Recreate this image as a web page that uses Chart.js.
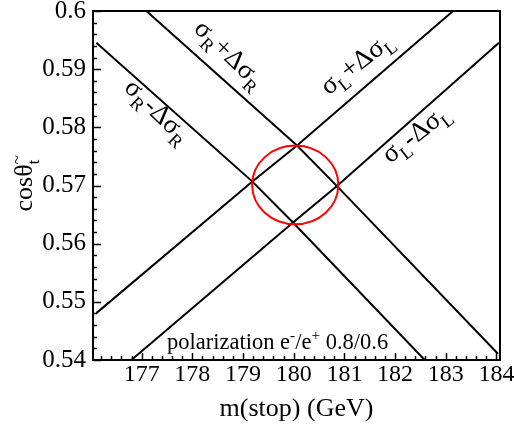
<!DOCTYPE html>
<html>
<head>
<meta charset="utf-8">
<script src="https://cdn.jsdelivr.net/npm/chart.js@4.4.0/dist/chart.umd.min.js"></script>
<style>
html, body { margin: 0; padding: 0; background: #fff; }
#wrap { width: 514px; height: 429px; }
</style>
</head>
<body>
<div id="wrap"><canvas id="chart" width="514" height="429"></canvas></div>
<script>
// ===========================
// Data
// ===========================

const rMinusX = [176.106, 179.185, 179.986, 182.585];
const rMinusY = [0.59455, 0.57067, 0.56363, 0.54];

const rPlusX = [177.093, 180.065, 180.854, 184.03];
const rPlusY = [0.6, 0.57686, 0.5699, 0.54107];

const lPlusX = [176.106, 179.185, 180.065, 183.144];
const lPlusY = [0.54806, 0.57067, 0.57686, 0.6];

const lMinusX = [176.797, 179.986, 180.854, 184.05];
const lMinusY = [0.54, 0.56363, 0.5699, 0.59455];

// fitted point and its 1-sigma contour (half widths)
const fitCenter = [180.03, 0.5701];
const fitHalfWidth = [0.85, 0.00676];

const xTickLabels = [177, 178, 179, 180, 181, 182, 183, 184];
const yTickLabels = [0.54, 0.55, 0.56, 0.57, 0.58, 0.59, 0.6];

const X_MIN = 176.04, X_MAX = 184.07;
const Y_MIN = 0.54, Y_MAX = 0.6;

const SERIF = '"Liberation Serif", "DejaVu Serif", serif';

function toPoints(xs, ys) {
    return xs.map((v, i) => ({ x: v, y: ys[i] }));
}

function lineSet(xs, ys) {
    return {
        data: toPoints(xs, ys),
        showLine: true,
        borderColor: '#000',
        borderWidth: 2,
        pointRadius: 0,
        tension: 0,
        fill: false
    };
}

// minor ticks: 5 per labelled step
function minorTicks(labels, step, lo, hi) {
    const out = [];
    const first = labels[0] - step;
    for (let i = 0; i <= (labels.length + 1) * 5; i++) {
        const v = Math.round((first + i * step / 5) * 1e6) / 1e6;
        if (v >= lo - 1e-9 && v <= hi + 1e-9) out.push({ value: v });
    }
    return out;
}

function isMajor(v, labels) {
    return labels.some(l => Math.abs(l - v) < 1e-7);
}

// ===========================
// Rich text helper (subscripts / superscripts)
// ===========================

function richWidth(ctx, parts, size) {
    let w = 0;
    parts.forEach(p => {
        ctx.font = `${p.sub || p.sup ? size * 0.68 : size}px ${SERIF}`;
        if (!p.noAdvance) w += ctx.measureText(p.t).width;
    });
    return w;
}

function drawRich(ctx, parts, size, x, y, angle, align) {
    ctx.save();
    ctx.translate(x, y);
    ctx.rotate(angle * Math.PI / 180);
    const total = richWidth(ctx, parts, size);
    let cx = align === 'left' ? 0 : -total / 2;
    ctx.textBaseline = 'alphabetic';
    ctx.textAlign = 'left';
    ctx.fillStyle = '#000';
    parts.forEach(p => {
        const s = p.sub || p.sup ? size * 0.68 : size;
        ctx.font = `${s}px ${SERIF}`;
        let dy = 0;
        if (p.sub) dy = size * 0.25;
        if (p.sup) dy = -size * 0.38;
        ctx.fillText(p.t, cx, dy);
        if (!p.noAdvance) cx += ctx.measureText(p.t).width;
    });
    ctx.restore();
}

const sig = (a, op, b) => [
    { t: 'σ' }, { t: a, sub: true }, { t: op }, { t: 'Δσ' }, { t: b, sub: true }
];

// label anchors in data units, angle in degrees
const curveLabels = [
    { parts: sig('R', '+', 'R'), x: 178.62, y: 0.5916, angle: 44 },
    { parts: sig('R', '-', 'R'), x: 177.197, y: 0.5818, angle: 44 },
    { parts: sig('L', '+', 'L'), x: 181.34, y: 0.5899, angle: -38 },
    { parts: sig('L', '-', 'L'), x: 182.506, y: 0.5778, angle: -38 }
];

// ===========================
// Overlay plugin: contour, frame, inward ticks, texts
// ===========================

const overlay = {
    id: 'overlay',
    afterDatasetsDraw(chart) {
        const { ctx, chartArea: a } = chart;
        const xs = chart.scales.x, ys = chart.scales.y;

        // red contour
        ctx.save();
        ctx.beginPath();
        ctx.rect(a.left, a.top, a.right - a.left, a.bottom - a.top);
        ctx.clip();
        const cx = xs.getPixelForValue(fitCenter[0]);
        const cy = ys.getPixelForValue(fitCenter[1]);
        const rx = Math.abs(xs.getPixelForValue(fitCenter[0] + fitHalfWidth[0]) - cx);
        const ry = Math.abs(ys.getPixelForValue(fitCenter[1] + fitHalfWidth[1]) - cy);
        ctx.beginPath();
        ctx.ellipse(cx, cy, rx, ry, 0, 0, Math.PI * 2);
        ctx.strokeStyle = '#ff0000';
        ctx.lineWidth = 2;
        ctx.stroke();
        ctx.restore();

        // frame
        ctx.save();
        ctx.strokeStyle = '#000';
        ctx.lineWidth = 2;
        ctx.strokeRect(a.left, a.top, a.right - a.left, a.bottom - a.top);

        // ticks pointing into the frame
        ctx.lineWidth = 1.5;
        ctx.beginPath();
        xs.ticks.forEach(t => {
            const px = Math.round(xs.getPixelForValue(t.value)) + 0.5;
            const len = isMajor(t.value, xTickLabels) ? 7 : 4;
            ctx.moveTo(px, a.bottom);
            ctx.lineTo(px, a.bottom - len);
        });
        ys.ticks.forEach(t => {
            const py = Math.round(ys.getPixelForValue(t.value)) + 0.5;
            const len = isMajor(t.value, yTickLabels) ? 8 : 4;
            ctx.moveTo(a.left, py);
            ctx.lineTo(a.left + len, py);
        });
        ctx.stroke();
        ctx.restore();

        // curve labels
        curveLabels.forEach(l => {
            drawRich(ctx, l.parts, 27, xs.getPixelForValue(l.x), ys.getPixelForValue(l.y), l.angle, 'center');
        });

        // polarization note
        drawRich(ctx, [
            { t: 'polarization e' }, { t: '-', sup: true }, { t: '/e' }, { t: '+', sup: true }, { t: ' 0.8/0.6' }
        ], 22.5, a.left + 74, a.bottom - 11, 0, 'left');

        // axis titles
        ctx.save();
        ctx.fillStyle = '#000';
        ctx.font = `26px ${SERIF}`;
        ctx.textAlign = 'center';
        ctx.textBaseline = 'alphabetic';
        ctx.fillText('m(stop) (GeV)', (a.left + a.right) / 2, 416);
        ctx.restore();

        drawRich(ctx, [
            { t: 'cosθ' }, { t: '~', sup: true, noAdvance: true }, { t: 't', sub: true }
        ], 26, 32, (a.top + a.bottom) / 2, -90, 'center');
    }
};

// ===========================
// Chart
// ===========================

new Chart(document.getElementById('chart'), {
    type: 'scatter',
    data: {
        datasets: [
            lineSet(rPlusX, rPlusY),
            lineSet(rMinusX, rMinusY),
            lineSet(lPlusX, lPlusY),
            lineSet(lMinusX, lMinusY)
        ]
    },
    options: {
        responsive: false,
        animation: false,
        layout: { padding: { top: 11, right: 14, bottom: 0, left: 0 } },
        plugins: { legend: { display: false }, tooltip: { enabled: false } },
        scales: {
            x: {
                type: 'linear',
                min: X_MIN,
                max: X_MAX,
                grid: { display: false, drawTicks: false },
                border: { display: false },
                afterBuildTicks: s => { s.ticks = minorTicks(xTickLabels, 1, X_MIN, X_MAX); },
                afterFit: s => { s.height = 69; s.paddingLeft = 0; s.paddingRight = 0; },
                ticks: {
                    autoSkip: false,
                    maxRotation: 0,
                    padding: 0,
                    color: '#000',
                    font: { family: SERIF, size: 24 },
                    callback: v => isMajor(v, xTickLabels) ? String(Math.round(v)) : ''
                }
            },
            y: {
                type: 'linear',
                min: Y_MIN,
                max: Y_MAX,
                grid: { display: false, drawTicks: false },
                border: { display: false },
                afterBuildTicks: s => { s.ticks = minorTicks(yTickLabels, 0.01, Y_MIN, Y_MAX); },
                afterFit: s => { s.width = 93; s.paddingTop = 0; s.paddingBottom = 0; },
                ticks: {
                    autoSkip: false,
                    padding: 7,
                    color: '#000',
                    font: { family: SERIF, size: 25 },
                    callback: v => isMajor(v, yTickLabels) ? String(Number(v.toFixed(2))) : ''
                }
            }
        }
    },
    plugins: [overlay]
});
</script>
</body>
</html>
